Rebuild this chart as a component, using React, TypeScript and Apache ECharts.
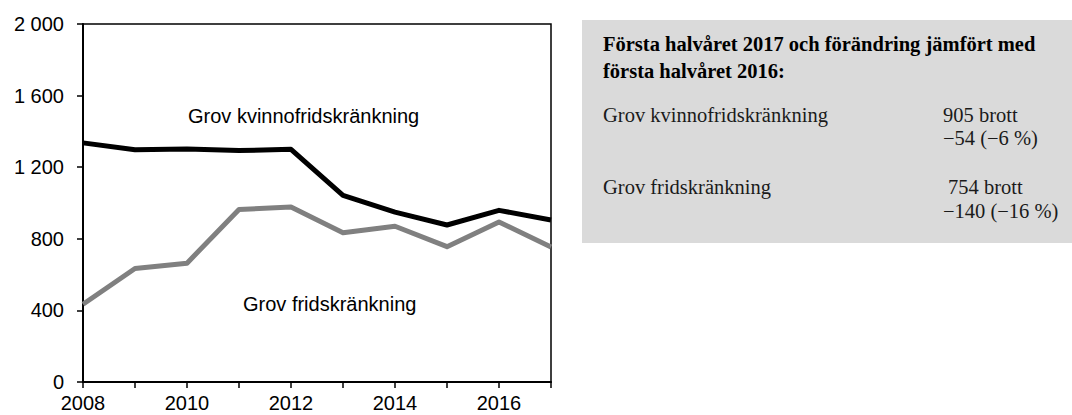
import React, { useEffect, useRef } from "react";
import * as echarts from "echarts";

const years = ["2008", "2009", "2010", "2011", "2012", "2013", "2014", "2015", "2016", "2017"];
const kvinnofrid = [1336, 1297, 1302, 1293, 1300, 1042, 949, 877, 959, 905];
const fridskr = [434, 634, 664, 964, 977, 834, 870, 756, 894, 754];
const yTicks = [0, 400, 800, 1200, 1600, 2000];

const boxTitle1 = "Första halvåret 2017 och förändring jämfört med";
const boxTitle2 = "första halvåret 2016:";
const row1Name = "Grov kvinnofridskränkning";
const row1Value = "905 brott";
const row1Change = "\u221254 (\u22126 %)";
const row2Name = "Grov fridskränkning";
const row2Value = "754 brott";
const row2Change = "\u2212140 (\u221216 %)";

const fmt = (v: number) => {
  const s = String(v);
  return s.length > 3 ? s.slice(0, s.length - 3) + " " + s.slice(-3) : s;
};

export default function App() {
  const ref = useRef<HTMLDivElement>(null);
  useEffect(() => {
    if (!ref.current) return;
    const chart = echarts.init(ref.current, null, { renderer: "svg" });
    const sans = "'Liberation Sans', Arial, sans-serif";
    const serif = "'Liberation Serif', 'Times New Roman', serif";
    const bodyFont = `20.5px ${serif}`;
    const titleFont = `bold 20.5px ${serif}`;
    chart.setOption({
      animation: false,
      backgroundColor: "#ffffff",
      grid: {
        left: 83,
        right: 1072 - 551,
        top: 24,
        bottom: 415 - 382,
        show: true,
        borderColor: "#000",
        borderWidth: 1.5,
        containLabel: false,
      },
      xAxis: {
        type: "category",
        data: years,
        boundaryGap: false,
        axisLine: { show: true, lineStyle: { color: "#000", width: 2 } },
        axisTick: { show: true, inside: false, length: 6, interval: 0, lineStyle: { color: "#000", width: 1.5 } },
        axisLabel: { interval: 1, color: "#000", fontSize: 20, fontFamily: sans, margin: 11 },
        splitLine: { show: false },
      },
      yAxis: {
        type: "value",
        min: yTicks[0],
        max: yTicks[yTicks.length - 1],
        interval: 400,
        axisLine: { show: true, lineStyle: { color: "#000", width: 2 } },
        axisTick: { show: true, inside: false, length: 6, lineStyle: { color: "#000", width: 1.5 } },
        axisLabel: { color: "#000", fontSize: 20, fontFamily: sans, margin: 19, formatter: (v: number) => fmt(v) },
        splitLine: { show: false },
      },
      series: [
        {
          name: row1Name,
          type: "line",
          data: kvinnofrid,
          symbol: "none",
          lineStyle: { color: "#000000", width: 5, join: "round" },
          z: 3,
        },
        {
          name: row2Name,
          type: "line",
          data: fridskr,
          symbol: "none",
          lineStyle: { color: "#808080", width: 5, join: "round" },
          z: 2,
        },
      ],
      graphic: [
        {
          type: "text",
          left: 188,
          top: 106,
          style: { text: row1Name, fill: "#000", font: `20px ${sans}` },
        },
        {
          type: "text",
          left: 243,
          top: 294,
          style: { text: row2Name, fill: "#000", font: `20px ${sans}` },
        },
        {
          type: "rect",
          shape: { x: 582, y: 20, width: 490, height: 223 },
          style: { fill: "#dadada" },
          z: -1,
        },
        { type: "text", x: 603, y: 44, style: { text: boxTitle1, fill: "#000", font: titleFont, verticalAlign: "middle" } },
        { type: "text", x: 603, y: 71, style: { text: boxTitle2, fill: "#000", font: titleFont, verticalAlign: "middle" } },
        { type: "text", x: 603, y: 115, style: { text: row1Name, fill: "#1a1a1a", font: bodyFont, verticalAlign: "middle" } },
        { type: "text", x: 943, y: 115, style: { text: row1Value, fill: "#1a1a1a", font: bodyFont, verticalAlign: "middle" } },
        { type: "text", x: 943, y: 138, style: { text: row1Change, fill: "#1a1a1a", font: bodyFont, verticalAlign: "middle" } },
        { type: "text", x: 603, y: 187, style: { text: row2Name, fill: "#1a1a1a", font: bodyFont, verticalAlign: "middle" } },
        { type: "text", x: 948, y: 187, style: { text: row2Value, fill: "#1a1a1a", font: bodyFont, verticalAlign: "middle" } },
        { type: "text", x: 943, y: 211, style: { text: row2Change, fill: "#1a1a1a", font: bodyFont, verticalAlign: "middle" } },
      ],
    });
    return () => chart.dispose();
  }, []);
  return (
    <div
      ref={ref}
      style={{ position: "absolute", left: 0, top: 0, width: 1072, height: 415 }}
    />
  );
}
